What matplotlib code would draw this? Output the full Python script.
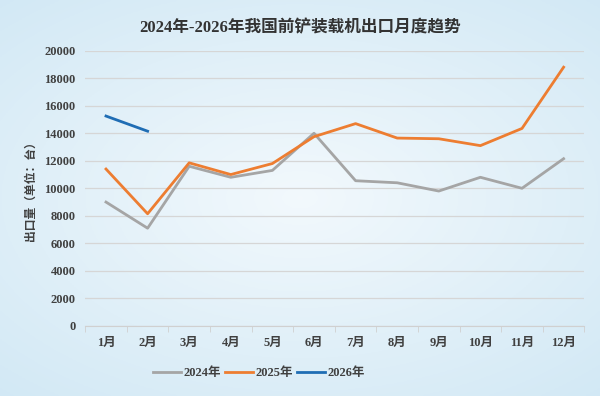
import numpy as np
import matplotlib.pyplot as plt

plt.rcParams['font.family'] = ['Liberation Serif', 'Noto Sans CJK SC', 'DejaVu Sans']

# data
months = ['1月', '2月', '3月', '4月', '5月', '6月', '7月', '8月', '9月', '10月', '11月', '12月']
y2024 = [9000, 7100, 11600, 10800, 11300, 14000, 10550, 10400, 9800, 10800, 10000, 12150]
y2025 = [11400, 8150, 11850, 11000, 11800, 13750, 14700, 13650, 13600, 13100, 14350, 18800]
y2026 = [15250, 14150]

fig = plt.figure(figsize=(6, 3.96), dpi=100)

# light blue background
bg = fig.add_axes([0, 0, 1, 1], zorder=-10)
gx, gy = np.meshgrid(np.linspace(-1, 1, 300), np.linspace(-1, 1, 200))
r = np.clip(np.sqrt((gx * 0.9) ** 2 + (gy * 1.0) ** 2), 0, 1.4)
c0 = np.array([0.95, 0.975, 0.99])
c1 = np.array([0.82, 0.91, 0.96])
img = c0 + (c1 - c0) * (r[..., None] / 1.4)
bg.imshow(img, aspect='auto', extent=[0, 1, 0, 1])
bg.axis('off')

ax = fig.add_axes([0.142, 0.177, 0.832, 0.695])
ax.patch.set_alpha(0)
x = np.arange(len(months))
ax.plot(x, y2024, color='#a5a5a5', linewidth=2.0, label='2024年')
ax.plot(x, y2025, color='#ed7d31', linewidth=2.0, label='2025年')
ax.plot(x[:len(y2026)], y2026, color='#1f6db4', linewidth=2.0, label='2026年')

ax.set_xlim(-0.5, 11.5)
ax.set_ylim(0, 20000)
ax.set_yticks(np.arange(0, 20001, 2000))
ax.set_xticks(x)
ax.set_xticklabels(months)
ax.set_xticks(np.arange(-0.5, 12, 1), minor=True)
ax.tick_params(axis='x', which='major', length=0, pad=8, labelsize=9, colors='#404040')
ax.tick_params(axis='x', which='minor', length=4, color='#d0d0d0')
ax.tick_params(axis='y', length=0, pad=7, labelsize=9, colors='#404040')
for lab in ax.get_xticklabels() + ax.get_yticklabels():
    lab.set_fontweight('bold')
ax.grid(axis='y', color='#d6d6d6', linewidth=0.9)
ax.set_axisbelow(True)
for s in ['top', 'right', 'left']:
    ax.spines[s].set_visible(False)
ax.spines['bottom'].set_color('#d0d0d0')

ax.set_ylabel('出口量（单位：台）', fontsize=8.5, fontweight='bold', color='#404040', labelpad=5)

fig.text(0.5, 0.93, '2024年-2026年我国前铲装载机出口月度趋势', ha='center', va='center',
         fontsize=12, fontweight='bold', color='#333333')

leg = fig.legend(loc='center', bbox_to_anchor=(0.432, 0.057), ncol=3, frameon=False,
                 fontsize=9, handlelength=2.2, columnspacing=0.3, handletextpad=0.25)
for t in leg.get_texts():
    t.set_fontweight('bold')
    t.set_color('#404040')

fig.savefig('out.png', dpi=100)
